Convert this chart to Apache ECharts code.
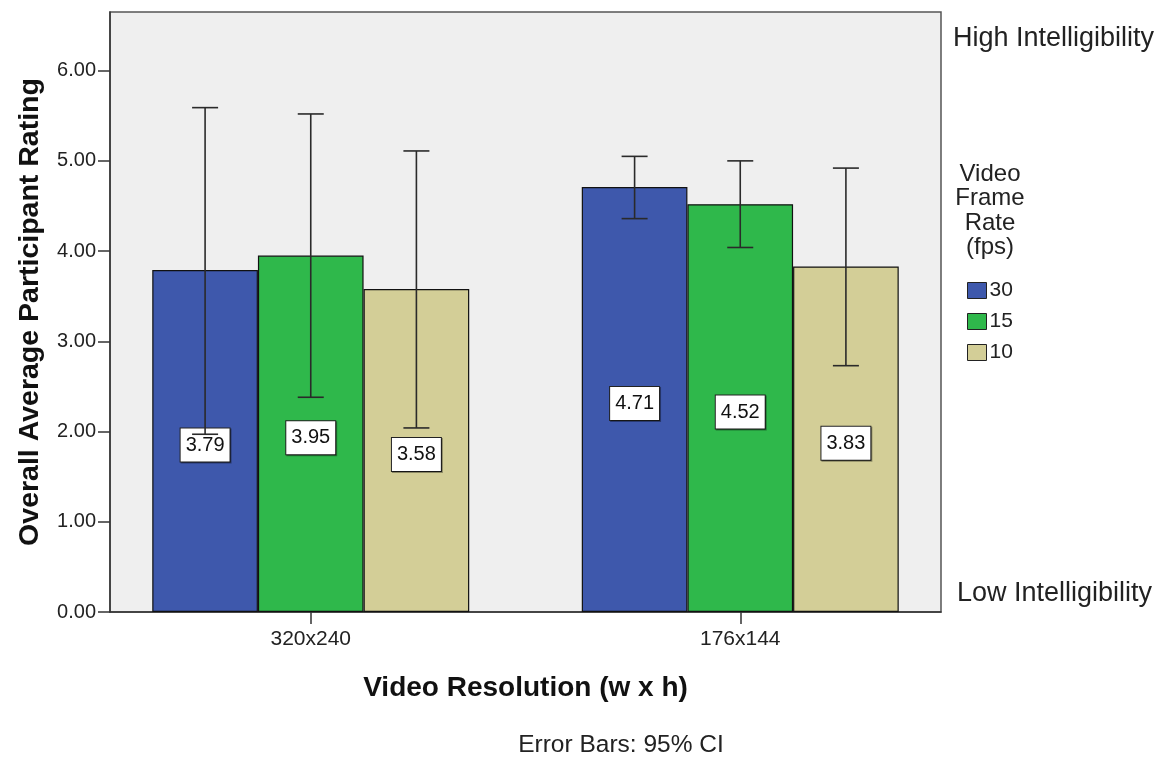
<!DOCTYPE html>
<html>
<head>
<meta charset="utf-8">
<script src="https://cdn.jsdelivr.net/npm/echarts@6/dist/echarts.min.js"></script>
<style>html,body{margin:0;padding:0;background:#fff;}#c{width:1161px;height:757px;}</style>
</head>
<body>
<div id="c"></div>
<script>
const categories = ['320x240', '176x144'];
const seriesNames = ['30', '15', '10'];
const means30 = [3.79, 4.71];
const means15 = [3.95, 4.52];
const means10 = [3.58, 3.83];
const lower30 = [1.97, 4.36];
const upper30 = [5.59, 5.05];
const lower15 = [2.38, 4.04];
const upper15 = [5.52, 5.00];
const lower10 = [2.04, 2.73];
const upper10 = [5.11, 4.92];
const yTicks = [0, 1, 2, 3, 4, 5, 6];
const yMax = 6.65;

const colors = ['#3e58ac', '#2fb84b', '#d3ce97'];
const FONT = "'Liberation Sans', Arial, sans-serif";
const CAT_GAP = 0.262;

const means = [means30, means15, means10];
const lowers = [lower30, lower15, lower10];
const uppers = [upper30, upper15, upper10];

const chart = echarts.init(document.getElementById('c'), null, {renderer: 'canvas'});

const barSeries = seriesNames.map((name, s) => ({
  name: name,
  type: 'bar',
  xAxisIndex: 1,
  yAxisIndex: 1,
  data: means[s],
  barGap: '0%',
  barCategoryGap: (CAT_GAP * 100) + '%',
  z: 2,
  itemStyle: {color: colors[s], borderColor: '#111', borderWidth: 1.2},
  label: {
    show: true,
    position: 'inside',
    offset: [0, 4],
    formatter: p => p.value.toFixed(2),
    fontFamily: FONT,
    fontSize: 20,
    color: '#111',
    backgroundColor: '#fff',
    borderColor: '#222',
    borderWidth: 1,
    padding: [7, 5, 6, 5],
    shadowColor: 'rgba(0,0,0,0.35)',
    shadowOffsetX: 1,
    shadowOffsetY: 1
  },
  emphasis: {disabled: true}
}));

const errData = [];
for (let s = 0; s < 3; s++) {
  for (let c = 0; c < categories.length; c++) {
    errData.push([c, lowers[s][c], uppers[s][c], s]);
  }
}

const errSeries = {
  type: 'custom',
  xAxisIndex: 1,
  yAxisIndex: 1,
  z: 10,
  silent: true,
  data: errData,
  renderItem: function (params, api) {
    const c = api.value(0), lo = api.value(1), hi = api.value(2), s = api.value(3);
    const band = api.size([1, 0])[0];
    const barW = band * (1 - CAT_GAP) / 3;
    const center = api.coord([c, lo])[0] + (s - 1) * barW;
    const yLo = api.coord([c, lo])[1];
    const yHi = api.coord([c, hi])[1];
    const cap = 13;
    const st = {stroke: '#2a2a2a', lineWidth: 1.6};
    return {
      type: 'group',
      children: [
        {type: 'line', shape: {x1: center, y1: yLo, x2: center, y2: yHi}, style: st},
        {type: 'line', shape: {x1: center - cap, y1: yLo, x2: center + cap, y2: yLo}, style: st},
        {type: 'line', shape: {x1: center - cap, y1: yHi, x2: center + cap, y2: yHi}, style: st}
      ]
    };
  }
};

const option = {
  backgroundColor: '#ffffff',
  animation: false,
  color: colors,
  title: [
    {text: 'High Intelligibility', left: 953, top: 25, padding: 0, textStyle: {fontFamily: FONT, fontSize: 27, fontWeight: 'normal', color: '#222'}},
    {text: 'Low Intelligibility', left: 957, top: 580, padding: 0, textStyle: {fontFamily: FONT, fontSize: 27, fontWeight: 'normal', color: '#222'}},
    {text: 'Video\nFrame\nRate\n(fps)', left: 990, top: 162, textAlign: 'center', padding: 0,
      textStyle: {fontFamily: FONT, fontSize: 24, fontWeight: 'normal', color: '#222', lineHeight: 24.5, align: 'center'}},
    {text: 'Error Bars: 95% CI', left: 621, top: 733, textAlign: 'center', padding: 0,
      textStyle: {fontFamily: FONT, fontSize: 24.5, fontWeight: 'normal', color: '#222'}}
  ],
  legend: {
    data: seriesNames,
    orient: 'vertical',
    left: 967,
    top: 280,
    padding: 0,
    itemWidth: 19,
    itemHeight: 16,
    itemGap: 10,
    icon: 'rect',
    selectedMode: false,
    itemStyle: {borderColor: '#222', borderWidth: 1},
    textStyle: {fontFamily: FONT, fontSize: 21, color: '#222', padding: [0, 0, 0, -2]}
  },
  grid: [
    {left: 110, right: 220, top: 12, bottom: 145, show: true, backgroundColor: '#efefef', borderColor: '#555', borderWidth: 1.5},
    {left: 96, right: 206, top: 12, bottom: 145}
  ],
  xAxis: [
    {
      type: 'value', gridIndex: 0, min: 0, max: 1,
      axisLine: {show: true, lineStyle: {color: '#333', width: 1.5}},
      axisTick: {show: false}, axisLabel: {show: false}, splitLine: {show: false},
      name: 'Video Resolution (w x h)', nameLocation: 'middle', nameGap: 62,
      nameTextStyle: {fontFamily: FONT, fontSize: 28, fontWeight: 'bold', color: '#111'}
    },
    {
      type: 'category', gridIndex: 1, data: categories,
      axisLine: {show: false},
      axisTick: {show: true, alignWithLabel: true, length: 12, lineStyle: {color: '#333', width: 1.5}},
      axisLabel: {fontFamily: FONT, fontSize: 21, color: '#222', margin: 17},
      splitLine: {show: false}
    }
  ],
  yAxis: [
    {
      type: 'value', gridIndex: 0, min: 0, max: yMax, interval: 1,
      axisLine: {show: true, lineStyle: {color: '#333', width: 1.5}},
      axisTick: {show: true, length: 12, lineStyle: {color: '#333', width: 1.5}, customValues: yTicks},
      axisLabel: {fontFamily: FONT, fontSize: 20, color: '#222', margin: 14, customValues: yTicks,
        formatter: v => Number(v).toFixed(2)},
      splitLine: {show: false},
      name: 'Overall Average Participant Rating', nameLocation: 'middle', nameGap: 65, nameRotate: 90,
      nameTextStyle: {fontFamily: FONT, fontSize: 28.5, fontWeight: 'bold', color: '#111'}
    },
    {
      type: 'value', gridIndex: 1, min: 0, max: yMax, interval: 1, show: false
    }
  ],
  series: barSeries.concat([errSeries])
};

chart.setOption(option);
</script>
</body>
</html>
